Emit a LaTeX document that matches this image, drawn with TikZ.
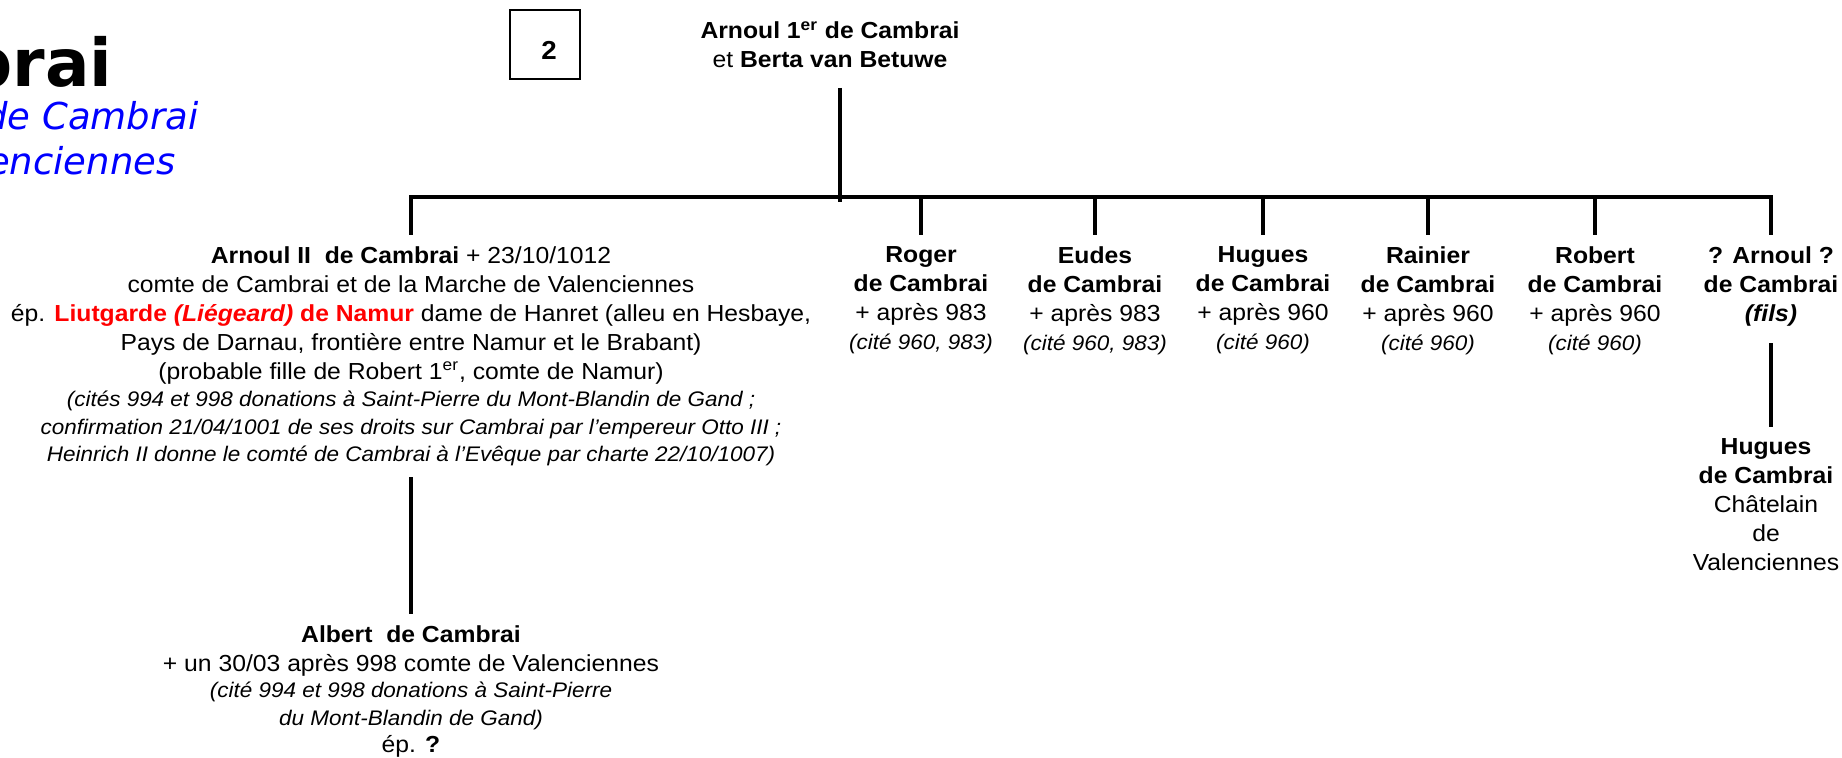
\documentclass[tikz,border=0pt]{standalone}
\usepackage{fontspec}
\setmainfont{Liberation Sans}[FakeStretch=1.065]
\newfontfamily\titlefont{DejaVu Sans}
\usetikzlibrary{positioning}
\definecolor{TitleBlue}{RGB}{0,0,255}
\definecolor{WifeRed}{RGB}{255,0,0}
\newcommand\notefont{\fontsize{10.55}{13.25}\selectfont\itshape}

\begin{document}
\begin{tikzpicture}[x=0.5pt,y=-0.5pt,
  pers/.style={align=center,inner xsep=0pt,inner ysep=5.5pt,font=\fontsize{11.6}{14.5}\selectfont},
  kid/.style={pers,anchor=north},
  tree/.style={line width=1.6pt}]
  \useasboundingbox (0,0) rectangle (1842,758);

  % title, cut at the left edge
  \node[anchor=base east,inner sep=0pt,font=\titlefont\fontsize{33}{40}\selectfont\bfseries] (ttl) at (113,87) {brai};
  \node[anchor=base east,inner sep=0pt,text=TitleBlue,font=\titlefont\fontsize{18.5}{22}\selectfont\itshape] (ttla) at (199,130) {de Cambrai};
  \node[anchor=base east,inner sep=0pt,text=TitleBlue,font=\titlefont\fontsize{18.5}{22}\selectfont\itshape] (ttlb) at (176,175) {enciennes};

  % page number box
  \node[draw,line width=0.7pt,minimum width=35pt,minimum height=34.5pt,inner sep=0pt,text height=15.5pt,text depth=0pt,font=\fontsize{13}{15}\selectfont\bfseries] (num) at (545,44.5) {\hspace*{4pt}2};

  % parents
  \node[kid] (arnoul1) at (830,10) {\textbf{Arnoul 1\textsuperscript{er}\ de Cambrai}\\et \textbf{Berta van Betuwe}};
  \coordinate (stemtop) at (840,88);
  \coordinate (bar) at (840,197);
  \coordinate (stemend) at (840,202);

  % children
  \node[kid] (arnoul2) at (411,235) {\textbf{Arnoul II\ \ de Cambrai} + 23/10/1012\\
    comte de Cambrai et de la Marche de Valenciennes\\
    ép. \textcolor{WifeRed}{\textbf{Liutgarde \textit{(Liégeard)} de Namur}} dame de Hanret (alleu en Hesbaye,\\
    Pays de Darnau, frontière entre Namur et le Brabant)\\
    (probable fille de Robert 1\textsuperscript{er}, comte de Namur)\\[-0.8pt]
    {\notefont (cités 994 et 998 donations à Saint-Pierre du Mont-Blandin de Gand ;}\\[-0.8pt]
    {\notefont confirmation 21/04/1001 de ses droits sur Cambrai par l’empereur Otto III ;}\\[-0.8pt]
    {\notefont Heinrich II donne le comté de Cambrai à l’Evêque par charte 22/10/1007)}};
  \node[kid] (roger) at (921,235) {\textbf{Roger}\\\textbf{de Cambrai}\\+ après 983\\{\notefont (cité 960, 983)}};
  \node[kid] (eudes) at (1095,235) {\textbf{Eudes}\\\textbf{de Cambrai}\\+ après 983\\{\notefont (cité 960, 983)}};
  \node[kid] (hugues) at (1263,235) {\textbf{Hugues}\\\textbf{de Cambrai}\\+ après 960\\{\notefont (cité 960)}};
  \node[kid] (rainier) at (1428,235) {\textbf{Rainier}\\\textbf{de Cambrai}\\+ après 960\\{\notefont (cité 960)}};
  \node[kid] (robert) at (1595,235) {\textbf{Robert}\\\textbf{de Cambrai}\\+ après 960\\{\notefont (cité 960)}};
  \node[kid] (arnoulq) at (1771,235) {\textbf{? Arnoul ?}\\\textbf{de Cambrai}\\\textbf{\textit{(fils)}}};

  % grandchildren
  \node[pers,below=68.5pt of arnoul2] (albert) {\textbf{Albert\ \ de Cambrai}\\
    + un 30/03 après 998 comte de Valenciennes\\[-1.35pt]
    {\notefont (cité 994 et 998 donations à Saint-Pierre}\\[-0.85pt]
    {\notefont du Mont-Blandin de Gand)}\\[-0.6pt]
    ép. \textbf{?}};
  \node[pers,below=45pt of arnoulq,xshift=-2.5pt] (huguesc) {\textbf{Hugues}\\\textbf{de Cambrai}\\Châtelain\\de\\Valenciennes};

  % tree lines
  \draw[tree] (stemtop) -- (stemend);
  \draw[tree] (arnoul2.north) |- (bar) -| (arnoulq.north);
  \draw[tree] (roger.north |- bar) -- (roger.north);
  \draw[tree] (eudes.north |- bar) -- (eudes.north);
  \draw[tree] (hugues.north |- bar) -- (hugues.north);
  \draw[tree] (rainier.north |- bar) -- (rainier.north);
  \draw[tree] (robert.north |- bar) -- (robert.north);
  \draw[tree] (arnoul2) -- (albert);
  \draw[tree] ([yshift=-3pt]arnoulq.south) -- (arnoulq.south |- huguesc.north);
\end{tikzpicture}
\end{document}
